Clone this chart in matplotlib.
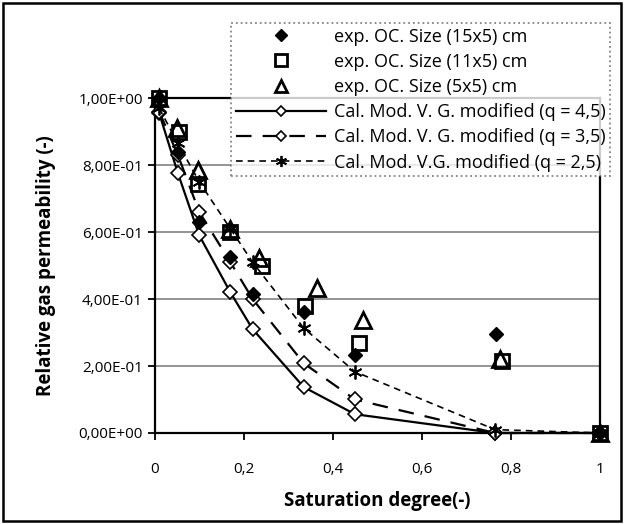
import numpy as np
import matplotlib.pyplot as plt
from matplotlib.patches import Rectangle
from matplotlib.ticker import FuncFormatter

plt.rcParams['font.family'] = ['Open Sans', 'DejaVu Sans']

# experimental points
sat_15 = [0.01, 0.052, 0.10, 0.17, 0.22, 0.335, 0.45, 0.768, 1.0]
krg_15 = [1.0, 0.84, 0.63, 0.525, 0.415, 0.362, 0.232, 0.296, 0.0]
sat_11 = [0.01, 0.055, 0.097, 0.17, 0.24, 0.337, 0.46, 0.78, 1.0]
krg_11 = [1.0, 0.898, 0.745, 0.60, 0.50, 0.38, 0.27, 0.215, 0.0]
sat_5 = [0.01, 0.05, 0.097, 0.17, 0.235, 0.364, 0.468, 0.775, 1.0]
krg_5 = [1.0, 0.91, 0.785, 0.61, 0.522, 0.433, 0.337, 0.22, 0.0]

# model curves
sat_mod = [0.01, 0.052, 0.10, 0.17, 0.22, 0.335, 0.45, 0.765, 1.0]
krg_q45 = [0.955, 0.776, 0.59, 0.42, 0.31, 0.137, 0.056, 0.0, 0.0]
krg_q35 = [0.96, 0.83, 0.66, 0.51, 0.40, 0.208, 0.10, 0.0, 0.0]
krg_q25 = [0.97, 0.865, 0.75, 0.61, 0.51, 0.313, 0.183, 0.01, 0.0]

fig = plt.figure(figsize=(6.24, 5.24), dpi=100)
ax = fig.add_axes([0.248, 0.1737, 0.713, 0.639])

ax.plot(sat_15, krg_15, linestyle='none', marker='D', ms=7.5, color='black',
        label='exp. OC. Size (15x5) cm', zorder=5)
ax.plot(sat_11, krg_11, linestyle='none', marker='s', ms=10, mfc='none', mec='black',
        mew=2, label='exp. OC. Size (11x5) cm', zorder=5)
ax.plot(sat_5, krg_5, linestyle='none', marker='^', ms=11, mfc='none', mec='black',
        mew=2, label='exp. OC. Size (5x5) cm', zorder=5)
ax.plot(sat_mod, krg_q45, '-', color='black', lw=1.6, marker='D', ms=7, mfc='white',
        mec='black', mew=1.2, label='Cal. Mod. V. G. modified (q = 4,5)', zorder=4)
ax.plot(sat_mod, krg_q35, color='black', lw=1.6, dashes=(7, 5), marker='D', ms=7,
        mfc='white', mec='black', mew=1.2,
        label='Cal. Mod. V. G. modified (q = 3,5)', zorder=4)
ax.plot(sat_mod, krg_q25, color='black', lw=1.2, dashes=(4, 3), marker=(6, 2, 0), ms=10,
        mec='black', mew=1.3, label='Cal. Mod. V.G. modified (q = 2,5)', zorder=4)

ax.set_xlim(0, 1.0)
ax.set_ylim(0, 1.0)
ax.set_xticks(np.arange(0, 1.01, 0.2))
ax.set_yticks(np.arange(0, 1.01, 0.2))
ax.xaxis.set_major_formatter(FuncFormatter(
    lambda v, p: '0' if v == 0 else ('1' if abs(v - 1) < 1e-9 else f'{v:.1f}'.replace('.', ','))))
ax.yaxis.set_major_formatter(FuncFormatter(lambda v, p: f'{v:.2E}'.replace('.', ',')))
ax.tick_params(axis='both', labelsize=11, direction='out', length=5, width=1.3)
ax.tick_params(axis='x', pad=16)
ax.yaxis.grid(True, color='#8c8c8c', lw=1.3)
ax.set_axisbelow(True)
for s in ax.spines.values():
    s.set_linewidth(1.6)
for m in ax.lines:
    m.set_clip_on(False)

ax.set_xlabel('Saturation degree(-)', fontsize=13.5, fontweight='bold', labelpad=10)
ax.set_ylabel('Relative gas permeability (-)', fontsize=13.5, fontweight='bold', labelpad=16)

leg = fig.legend(loc='upper right', bbox_to_anchor=(0.978, 0.956), fontsize=13,
                 frameon=True, fancybox=False, handlelength=5.0, labelspacing=0.4,
                 borderpad=0.25, handletextpad=0.45, markerscale=0.8, borderaxespad=0)
leg.get_frame().set_edgecolor('#666666')
leg.get_frame().set_linestyle(':')
leg.get_frame().set_linewidth(1.3)

fig.patches.append(Rectangle((0.005, 0.005), 0.99, 0.99, transform=fig.transFigure,
                             fill=False, edgecolor='black', lw=1.8))

fig.savefig('out.png', dpi=100)
